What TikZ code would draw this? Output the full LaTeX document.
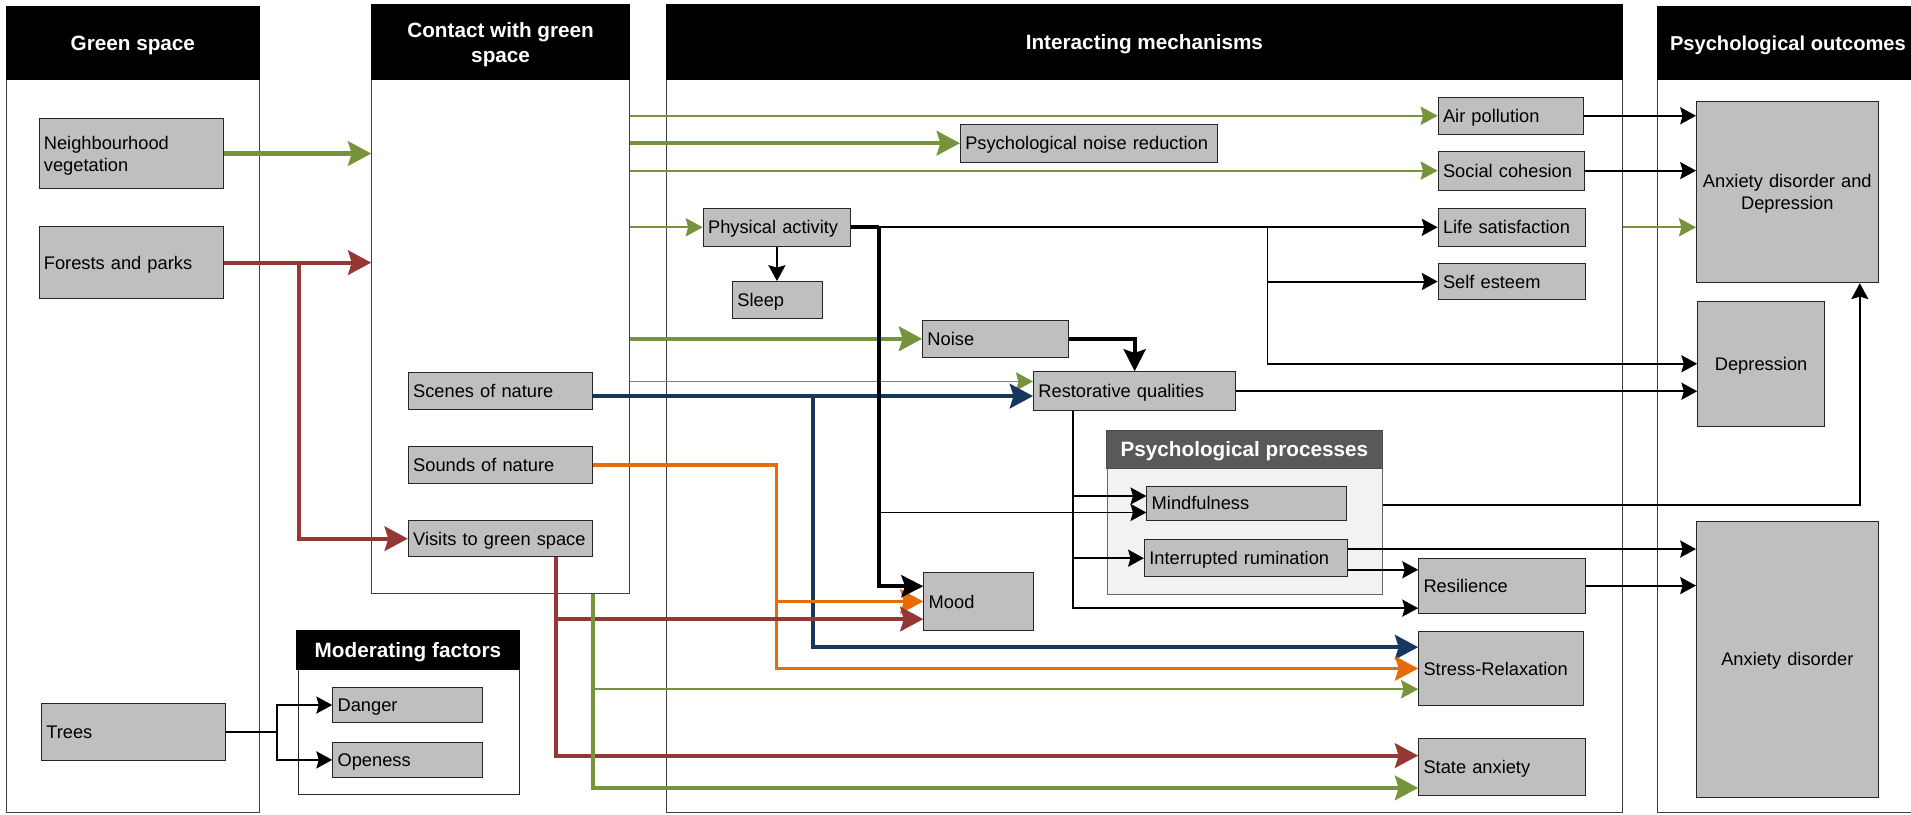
\documentclass[tikz,border=0pt]{standalone}
\usepackage{fontspec}
\setmainfont{Liberation Sans}
\usetikzlibrary{arrows.meta,calc}
\definecolor{ggreen}{HTML}{77933C}
\definecolor{gred}{HTML}{953735}
\definecolor{gblue}{HTML}{17375E}
\definecolor{gorange}{HTML}{E46C0A}
\definecolor{boxgray}{HTML}{BFBFBF}
\definecolor{panelgray}{HTML}{F2F2F2}
\definecolor{hdrgray}{HTML}{595959}
\newcommand\bxfont{\fontsize{15}{18}\selectfont}
\newcommand\hdfont{\bfseries\fontsize{17}{20}\selectfont}
\begin{document}
\begin{tikzpicture}[x=1pt,y=-1pt,
  box/.style={draw=black!85, line width=0.8pt, fill=boxgray, inner xsep=4pt, inner ysep=0pt, font=\bxfont, align=left, text height=10.8pt, text depth=0pt},
  bx/.style 2 args={box, minimum width=#1pt, minimum height=#2pt, text width=#1pt-8pt},
  cbx/.style 2 args={bx={#1}{#2}, align=center},
  colhead/.style={fill=black, draw=black, line width=0.8pt, text=white, font=\hdfont, align=center, inner sep=0pt, text height=12.2pt, text depth=0pt},
  colbody/.style={draw=black!75, line width=0.8pt, fill=white, inner sep=0pt},
  ab/.style={draw=black, line width=1.6pt, -{Stealth[length=13pt,width=14pt,inset=2pt]}},
  abk/.style={draw=black, line width=3.4pt, -{Stealth[length=18pt,width=18pt,inset=3pt]}},
  bthick/.style={draw=black, line width=3.4pt},
  gt/.style={draw=ggreen, line width=1.5pt, -{Stealth[length=14pt,width=15pt,inset=2pt]}},
  gk/.style={draw=ggreen, line width=3.6pt, -{Stealth[length=19pt,width=20pt,inset=3pt]}},
  rk/.style={draw=gred, line width=3.4pt, -{Stealth[length=19pt,width=20pt,inset=3pt]}},
  bk/.style={draw=gblue, line width=3.6pt, -{Stealth[length=19pt,width=20pt,inset=3pt]}},
  ok/.style={draw=gorange, line width=3.0pt, -{Stealth[length=19pt,width=20pt,inset=3pt]}}
]
\useasboundingbox (0,0) rectangle (1568,668);

% ---------- columns ----------
\node[colbody, minimum width=208pt, minimum height=601.4pt] (c1) at (109,366.3) {};
\node[colhead, minimum width=208pt, minimum height=60pt] (h1) at (109,35.5) {Green space};
\node[colbody, minimum width=211.5pt, minimum height=421.1pt] (c2) at (410.75,276.15) {};
\node[colhead, minimum width=211.5pt, minimum height=61.6pt, text height=32.2pt, text depth=0pt] (h2) at (410.75,34.8) {Contact with green\\space};
\node[colbody, minimum width=785pt, minimum height=601.4pt] (c3) at (939,366.3) {};
\node[colhead, minimum width=785pt, minimum height=61.6pt] (h3) at (939,34.8) {Interacting mechanisms};
\node[colbody, minimum width=215pt, minimum height=601.4pt] (c4) at (1467.5,366.3) {};
\node[colhead, minimum width=215pt, minimum height=60.1pt, font=\bfseries\fontsize{16.5}{20}\selectfont, text height=11.8pt] (h4) at (1467.5,35.55) {\hspace*{-1pt}Psychological outcomes};

% ---------- panels ----------
\node[draw=black!85, line width=0.8pt, fill=white, minimum width=181pt, minimum height=103pt, inner sep=0pt] (mf) at (335.5,600.5) {};
\node[colhead, minimum width=182.5pt, minimum height=32pt] (mfh) at (334.75,533) {Moderating factors};
\node[draw=black!60, line width=0.8pt, fill=panelgray, minimum width=225pt, minimum height=103.5pt, inner sep=0pt] (pp) at (1021.5,435.75) {};
\node[colhead, fill=hdrgray, draw=black!70, minimum width=226pt, minimum height=31pt] (pph) at (1021,368.5) {Psychological processes};

% ---------- boxes ----------
\node[bx={151}{58}, text depth=18pt] (nv) at (107.5,126) {Neighbourhood\\vegetation};
\node[bx={151}{59}] (fp) at (107.5,215.5) {Forests and parks};
\node[bx={151}{47}] (trees) at (109.5,600.5) {Trees};
\node[bx={123}{29}] (danger) at (334.5,578.5) {Danger};
\node[bx={123}{29}] (open) at (334.5,623.5) {Openess};
\node[bx={151}{30}] (scenes) at (410.5,321) {Scenes of nature};
\node[bx={151}{31}] (sounds) at (410.5,381.5) {Sounds of nature};
\node[bx={151}{30}] (visits) at (410.5,442) {Visits to green space};
\node[bx={119}{30}] (air) at (1239.5,95) {Air pollution};
\node[bx={211}{31}] (pnr) at (893.5,117.5) {Psychological noise reduction};
\node[bx={120}{32}] (social) at (1240,140) {Social cohesion};
\node[bx={121}{31}] (pa) at (637.5,186.5) {Physical activity};
\node[bx={121}{31}] (life) at (1240.5,186.5) {Life satisfaction};
\node[bx={121}{30}] (self) at (1240.5,231) {Self esteem};
\node[bx={74}{30}] (sleep) at (638,246) {Sleep};
\node[bx={120}{30}] (noise) at (817,278) {Noise};
\node[bx={166}{32}] (rq) at (931,321) {Restorative qualities};
\node[bx={164}{28}] (mind) at (1023,413) {Mindfulness};
\node[bx={167}{30}] (ir) at (1022.5,458) {Interrupted rumination};
\node[bx={90}{47}] (mood) at (803,493.5) {Mood};
\node[bx={137}{45}] (res) at (1232.5,480.5) {Resilience};
\node[bx={135}{61}] (stress) at (1231.5,548.5) {Stress-Relaxation};
\node[bx={137}{47}] (state) at (1232.5,629.5) {State anxiety};
\node[cbx={149}{149}, text depth=18pt] (ad) at (1466.5,157.5) {Anxiety disorder and\\Depression};
\node[cbx={104}{103}] (dep) at (1445,298.5) {Depression};
\node[cbx={149}{226}] (anx) at (1466.5,541) {Anxiety disorder};

% ---------- green space -> contact ----------
\draw[gk] (nv.east) -- (nv.east -| c2.west);
\draw[rk] (fp.east) -- (fp.east -| c2.west);
\coordinate (rb) at (245,215.5);
\draw[rk] (rb) |- (visits.west);

% ---------- contact -> mechanisms (green) ----------
\draw[gt] (air.west -| c2.east) -- (air.west);
\draw[gk] (pnr.west -| c2.east) -- (pnr.west);
\draw[gt] (social.west -| c2.east) -- (social.west);
\draw[gt] (pa.west -| c2.east) -- (pa.west);
\draw[gk] (noise.west -| c2.east) -- (noise.west);
\coordinate (rqg) at ($(rq.west)+(0,-8)$);
\draw[gt] (rqg -| c2.east) -- (rqg);

% ---------- blue ----------
\coordinate (sb) at ($(scenes.east)+(0,4)$);
\draw[bk] (sb) -- (sb -| rq.west);
\coordinate (bj) at (667,325);
\coordinate (stb) at ($(stress.west)+(0,-17.5)$);
\draw[bk] (bj) |- (stb);

% ---------- orange ----------
\coordinate (oj) at (637,381.5);
\draw[ok] (sounds.east) -- (oj) |- (stress.west);
\draw[ok] (oj |- mood.west) -- (mood.west);

% ---------- red from visits ----------
\coordinate (vr) at ($(visits.south)+(45.5,0)$);
\coordinate (stateR) at ($(state.west)+(0,-9.5)$);
\draw[rk] (vr) |- (stateR);
\coordinate (moodR) at ($(mood.west)+(0,14.5)$);
\draw[rk] (vr |- moodR) -- (moodR);

% ---------- green from contact bottom ----------
\coordinate (gv) at (c2.south -| scenes.east);
\coordinate (stateG) at ($(state.west)+(0,17)$);
\draw[gk] (gv) |- (stateG);
\coordinate (stressG) at ($(stress.west)+(0,17)$);
\draw[gt] (gv |- stressG) -- (stressG);

% ---------- physical activity ----------
\coordinate (pj) at ($(pa.east)+(23,0)$);
\draw[bthick] (pa.east) -- (pj);
\draw[ab] (pj) -- (life.west);
\coordinate (moodB) at ($(mood.west)+(0,-12.5)$);
\draw[abk] (pj) |- (moodB);
\coordinate (mindB) at ($(mind.west)+(0,7.5)$);
\draw[ab] (pj |- mindB) -- (mindB);
\coordinate (lj) at (1040,186.5);
\draw[ab] (lj) |- (dep.west);
\draw[ab] (lj |- self.west) -- (self.west);
\draw[ab] (pa.south) -- (pa.south |- sleep.north);

% ---------- to outcomes ----------
\draw[ab] (air.east) -- (air.east -| ad.west);
\draw[ab] (social.east) -- (social.east -| ad.west);
\draw[gt] (pa.east -| c3.east) -- (pa.east -| ad.west);
\draw[ab] (rq.east) -- (rq.east -| dep.west);

% ---------- noise & restorative ----------
\draw[abk] (noise.east) -| (rq.north);
\coordinate (rj) at ($(rq.south)+(-50.5,0)$);
\coordinate (resB) at ($(res.west)+(0,18.5)$);
\draw[ab] (rj) |- (resB);
\coordinate (mindR) at ($(mind.west)+(0,-6)$);
\draw[ab] (rj |- mindR) -- (mindR);
\draw[ab] (rj |- ir.west) -- (ir.west);

% ---------- psychological processes ----------
\coordinate (mo) at ($(pp.east |- mind.east)+(0,1.5)$);
\coordinate (adS) at ($(ad.south)+(59.5,0)$);
\draw[ab] (mo) -| (adS);
\coordinate (irA) at ($(ir.east)+(0,-7.5)$);
\draw[ab] (irA) -- (irA -| anx.west);
\coordinate (irR) at ($(ir.east)+(0,9.5)$);
\draw[ab] (irR) -- (irR -| res.west);
\draw[ab] (res.east) -- (res.east -| anx.west);

% ---------- trees ----------
\coordinate (tj) at ($(trees.east)+(42,0)$);
\draw[ab] (trees.east) -- (tj) |- (danger.west);
\draw[ab] (tj) |- (open.west);
\end{tikzpicture}
\end{document}
